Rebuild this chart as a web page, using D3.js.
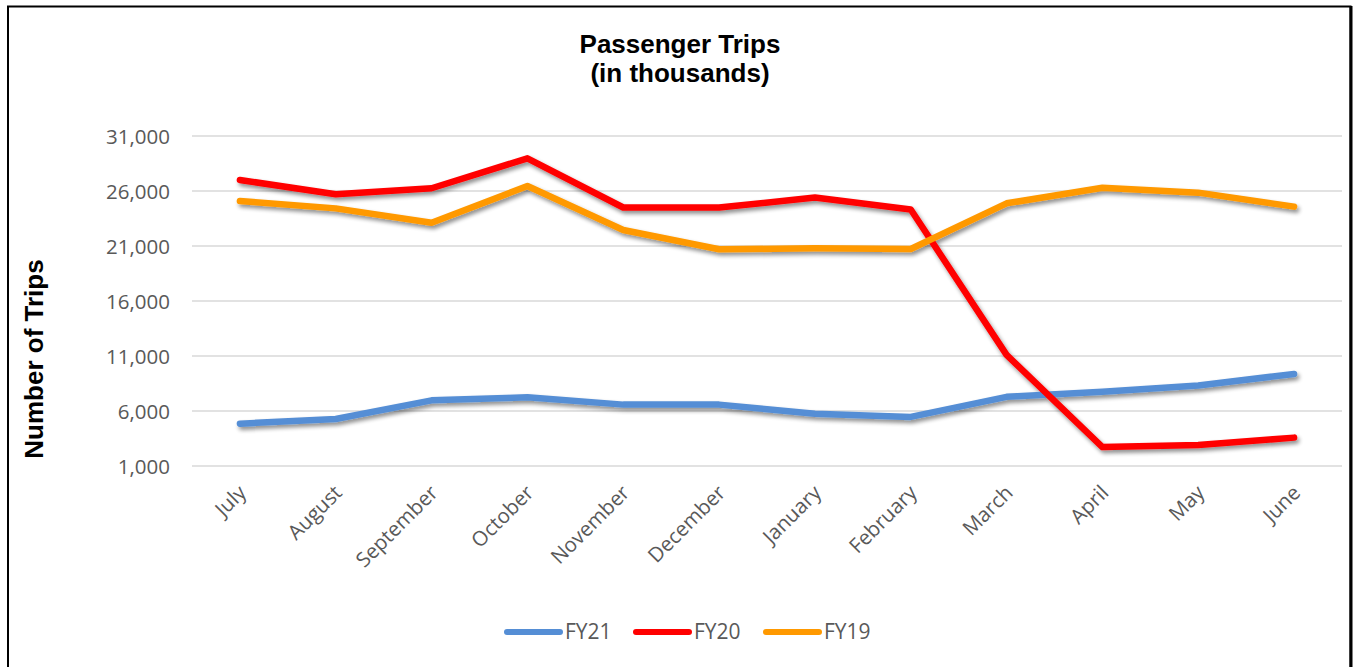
<!DOCTYPE html>
<html>
<head>
<meta charset="utf-8">
<script src="https://cdn.jsdelivr.net/npm/d3@7"></script>
<style>
  html, body { margin: 0; padding: 0; background: #fff; }
  svg { display: block; }
</style>
</head>
<body>
<svg id="chart" width="1353" height="667"></svg>
<script>
const months = ["July","August","September","October","November","December","January","February","March","April","May","June"];
const fy21 = [4850, 5270, 6970, 7240, 6580, 6580, 5760, 5460, 7290, 7750, 8320, 9370];
const fy20 = [27000, 25700, 26250, 28970, 24500, 24500, 25400, 24320, 11100, 2720, 2900, 3580];
const fy19 = [25090, 24420, 23120, 26450, 22450, 20700, 20790, 20730, 24880, 26300, 25850, 24580];
const yTicks = [1000, 6000, 11000, 16000, 21000, 26000, 31000];
const seriesNames = ["FY21", "FY20", "FY19"];
const seriesColors = ["#558ED5", "#FF0000", "#FF9900"];

const series = [
  { name: seriesNames[0], values: fy21, color: seriesColors[0] },
  { name: seriesNames[1], values: fy20, color: seriesColors[1] },
  { name: seriesNames[2], values: fy19, color: seriesColors[2] }
];

const svg = d3.select("#chart");
const W = 1353, H = 667;
const plot = { left: 192, right: 1342, top: 136, bottom: 466 };

const x = d3.scalePoint().domain(months).range([plot.left, plot.right]).padding(0.5);
const y = d3.scaleLinear().domain([1000, 31000]).range([plot.bottom, plot.top]);

// drop shadow filter
const defs = svg.append("defs");
const f = defs.append("filter").attr("id", "shadow").attr("x", "-5%").attr("y", "-20%").attr("width", "110%").attr("height", "140%");
f.append("feGaussianBlur").attr("in", "SourceAlpha").attr("stdDeviation", 2).attr("result", "blur");
f.append("feOffset").attr("in", "blur").attr("dx", 2).attr("dy", 3).attr("result", "off");
f.append("feComponentTransfer").attr("in", "off").attr("result", "shadow")
  .append("feFuncA").attr("type", "linear").attr("slope", 0.45);
const merge = f.append("feMerge");
merge.append("feMergeNode").attr("in", "shadow");
merge.append("feMergeNode").attr("in", "SourceGraphic");

// background + border
svg.append("rect").attr("x", 0).attr("y", 0).attr("width", W).attr("height", H).attr("fill", "#fff");
svg.append("rect").attr("x", 8).attr("y", 6.5).attr("width", 1342.5).attr("height", 700)
  .attr("fill", "none").attr("stroke", "#000").attr("stroke-width", 2);
svg.append("line").attr("x1", 1351).attr("x2", 1351).attr("y1", 6).attr("y2", H)
  .attr("stroke", "#000").attr("stroke-width", 3);

// title
const title = svg.append("text").attr("text-anchor", "middle")
  .attr("font-family", "Liberation Sans, Arial, sans-serif").attr("font-weight", "bold")
  .attr("font-size", 26).attr("fill", "#000");
title.append("tspan").attr("x", 680).attr("y", 53).text("Passenger Trips");
title.append("tspan").attr("x", 680).attr("y", 82).text("(in thousands)");

// gridlines + y axis
const yAxis = d3.axisLeft(y).tickValues(yTicks).tickSize(0).tickPadding(0)
  .tickFormat(d3.format(","));
const gy = svg.append("g").attr("transform", `translate(${plot.left},0)`).call(yAxis);
gy.select(".domain").remove();
gy.selectAll("text").attr("x", -22).attr("dy", "0.35em")
  .attr("font-family", "Open Sans, sans-serif").attr("font-size", 20.5).attr("fill", "#595959");

svg.append("g").selectAll("line").data(yTicks).join("line")
  .attr("x1", plot.left).attr("x2", plot.right)
  .attr("y1", d => y(d)).attr("y2", d => y(d))
  .attr("stroke", "#D9D9D9").attr("stroke-width", 1.5);

// x axis labels
const xAxis = d3.axisBottom(x).tickSize(0).tickPadding(0);
const gx = svg.append("g").attr("transform", `translate(0,${plot.bottom})`).call(xAxis);
gx.select(".domain").remove();
gx.selectAll("text")
  .attr("font-family", "Open Sans, sans-serif").attr("font-size", 20.5).attr("fill", "#595959")
  .attr("text-anchor", "end").attr("dy", 0).attr("y", 0)
  .attr("transform", "translate(7,28) rotate(-45)");

// y axis title
svg.append("text").attr("transform", "translate(43,359) rotate(-90)")
  .attr("text-anchor", "middle")
  .attr("font-family", "Liberation Sans, Arial, sans-serif").attr("font-weight", "bold")
  .attr("font-size", 26).attr("fill", "#000").text("Number of Trips");

// lines
const line = d3.line().x((d, i) => x(months[i])).y(d => y(d));
svg.append("g").attr("filter", "url(#shadow)").selectAll("path").data(series).join("path")
  .attr("d", d => line(d.values))
  .attr("fill", "none").attr("stroke", d => d.color).attr("stroke-width", 6.5)
  .attr("stroke-linejoin", "round").attr("stroke-linecap", "round");

// legend
const legendX = [505, 634, 764];
const lg = svg.append("g").selectAll("g").data(series).join("g")
  .attr("transform", (d, i) => `translate(${legendX[i]},632)`);
lg.append("line").attr("x1", 2).attr("x2", 55).attr("y1", 0).attr("y2", 0)
  .attr("stroke", d => d.color).attr("stroke-width", 6).attr("stroke-linecap", "round");
lg.append("text").attr("x", 60).attr("y", 0).attr("dy", "0.35em")
  .attr("font-family", "Open Sans, sans-serif").attr("font-size", 21).attr("fill", "#595959")
  .text(d => d.name);
</script>
</body>
</html>
